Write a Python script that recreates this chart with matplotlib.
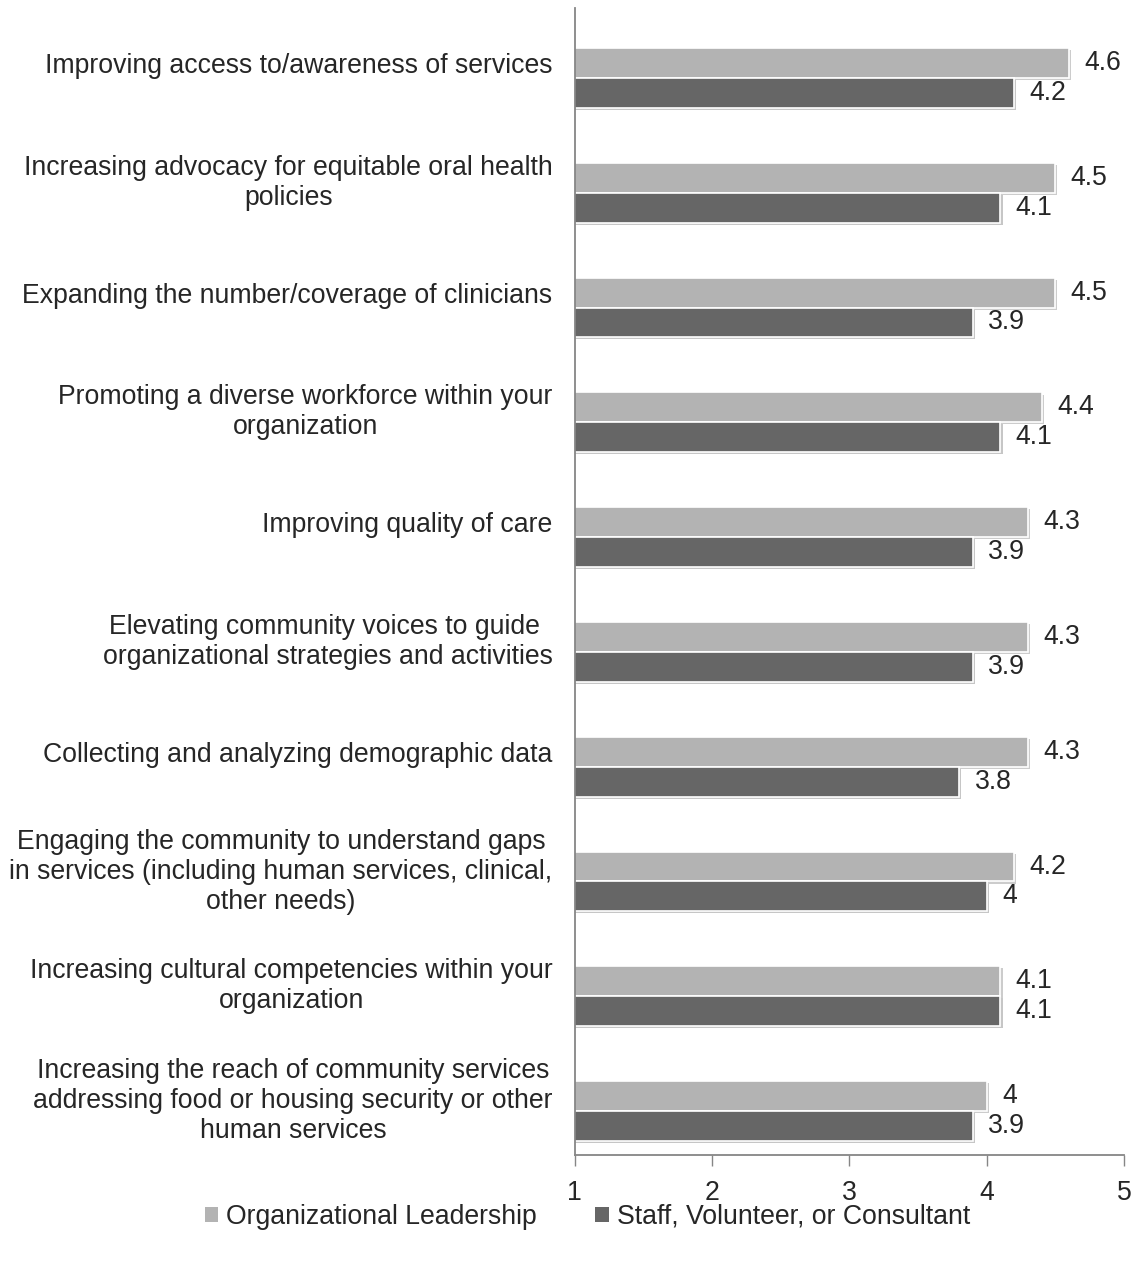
import matplotlib
matplotlib.use("Agg")
import matplotlib.pyplot as plt
import matplotlib.patheffects as pe
from matplotlib.patches import Patch
import numpy as np

plt.rcParams['font.family'] = ['Liberation Sans', 'DejaVu Sans']

categories = [
    "Improving access to/awareness of services",
    "Increasing advocacy for equitable oral health\npolicies",
    "Expanding the number/coverage of clinicians",
    "Promoting a diverse workforce within your\norganization",
    "Improving quality of care",
    "Elevating community voices to guide \norganizational strategies and activities",
    "Collecting and analyzing demographic data",
    "Engaging the community to understand gaps\nin services (including human services, clinical,\nother needs)",
    "Increasing cultural competencies within your\norganization",
    "Increasing the reach of community services\naddressing food or housing security or other\nhuman services",
]
leadership = [4.6, 4.5, 4.5, 4.4, 4.3, 4.3, 4.3, 4.2, 4.1, 4.0]
staff = [4.2, 4.1, 3.9, 4.1, 3.9, 3.9, 3.8, 4.0, 4.1, 3.9]
series_names = ["Organizational Leadership", "Staff, Volunteer, or Consultant"]
x_ticks = [1, 2, 3, 4, 5]

light = "#b3b3b3"
dark = "#666666"
text_color = "#262626"
axis_color = "#868686"
fs = 19.2

fig = plt.figure(figsize=(11.36, 12.62), dpi=100)
ax = fig.add_axes([0.506, 0.0848, 0.4835, 0.9089])

pos = np.arange(len(categories))
h = 0.26
shadow = [pe.SimplePatchShadow(offset=(1.5, -1.5), alpha=0.25), pe.Normal()]

b1 = ax.barh(pos - h / 2, leadership, height=h, color=light, edgecolor="white", linewidth=1.2)
b2 = ax.barh(pos + h / 2, staff, height=h, color=dark, edgecolor="white", linewidth=1.2)
for bars in (b1, b2):
    for b in bars:
        b.set_path_effects(shadow)

for bars, vals in ((b1, leadership), (b2, staff)):
    for b, v in zip(bars, vals):
        ax.annotate(f"{v:g}", xy=(v, b.get_y() + b.get_height() / 2),
                    xytext=(11, 0), textcoords="offset points",
                    ha="left", va="center", fontsize=fs, color=text_color)

ax.set_xlim(1, 5)
ax.set_ylim(len(categories) - 1 + 0.383, -0.61)
ax.set_xticks(x_ticks)
ax.set_xticklabels([str(t) for t in x_ticks])
ax.tick_params(axis="x", direction="out", length=8, width=1, color=axis_color,
               labelsize=fs, labelcolor=text_color, pad=10)

ax.set_yticks(pos - h / 2)
ax.set_yticklabels(categories)
ax.tick_params(axis="y", length=0, pad=16, labelsize=fs, labelcolor=text_color)
for lbl in ax.get_yticklabels():
    lbl.set_multialignment("center")

for s in ("top", "right"):
    ax.spines[s].set_visible(False)
for s in ("left", "bottom"):
    ax.spines[s].set_color(axis_color)
    ax.spines[s].set_linewidth(1.3)

handles = [Patch(facecolor=light, edgecolor="none"), Patch(facecolor=dark, edgecolor="none")]
fig.legend(handles, series_names, loc="center", bbox_to_anchor=(0.517, 0.0357), ncol=2,
           frameon=False, fontsize=fs, handlelength=0.5, handleheight=0.5,
           handletextpad=0.3, columnspacing=2.2, labelcolor=text_color)

fig.savefig("out.png", dpi=100, facecolor="white")
